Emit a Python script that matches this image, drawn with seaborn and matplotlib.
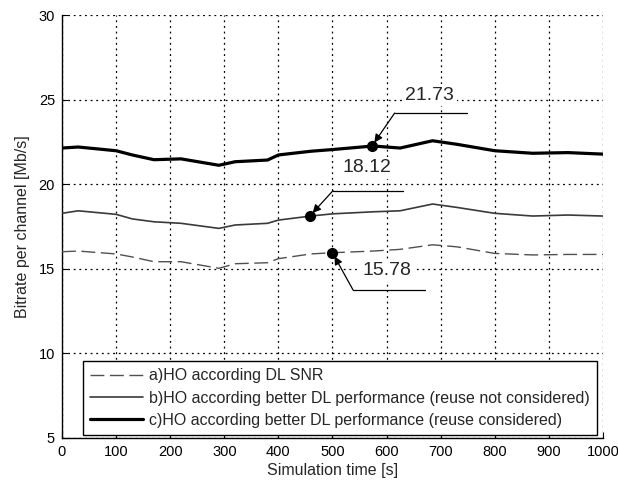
import matplotlib
matplotlib.use("Agg")
import matplotlib.pyplot as plt
import seaborn as sns
import pandas as pd

# ---- data ----
time_s = [0, 30, 100, 130, 170, 220, 290, 320, 380, 400, 460, 500, 575, 625, 685, 730, 800, 870, 935, 1000]
rate_a = [16.01, 16.05, 15.88, 15.70, 15.42, 15.42, 15.03, 15.30, 15.36, 15.60, 15.88, 15.95, 16.05, 16.15, 16.42, 16.30, 15.91, 15.82, 15.85, 15.85]
rate_b = [18.28, 18.43, 18.22, 17.95, 17.78, 17.69, 17.39, 17.59, 17.69, 17.88, 18.12, 18.25, 18.37, 18.43, 18.83, 18.63, 18.28, 18.12, 18.18, 18.12]
rate_c = [22.14, 22.20, 21.98, 21.73, 21.45, 21.50, 21.12, 21.33, 21.43, 21.73, 21.95, 22.05, 22.26, 22.14, 22.57, 22.36, 21.98, 21.83, 21.87, 21.78]

series_labels = [
    "a)HO according DL SNR",
    "b)HO according better DL performance (reuse not considered)",
    "c)HO according better DL performance (reuse considered)",
]

# annotation markers: (time, value, label text)
ann_points_t = [573, 458, 500]
ann_points_v = [22.26, 18.12, 15.95]
ann_texts = ["21.73", "18.12", "15.78"]
ann_text_t = [680, 564, 601]
ann_text_v = [25.27, 20.96, 14.93]
ann_line_t0 = [615, 501, 538]
ann_line_t1 = [749, 630, 671]
ann_line_v = [24.21, 19.62, 13.75]

x_ticks = list(range(0, 1001, 100))
y_ticks = [5, 10, 15, 20, 25, 30]

# ---- build frame ----
rows = []
for lab, vals in zip(series_labels, [rate_a, rate_b, rate_c]):
    for t, v in zip(time_s, vals):
        rows.append({"time": t, "rate": v, "series": lab})
df = pd.DataFrame(rows)

sns.set_style("white")
plt.rcParams["font.family"] = ["Liberation Sans", "DejaVu Sans"]

fig = plt.figure(figsize=(6.18, 4.86), dpi=100)
ax = fig.add_axes([0.1003, 0.0988, 0.8754, 0.8702])

styles = {
    series_labels[0]: dict(color="#505050", lw=1.0, dashes=(10, 4)),
    series_labels[1]: dict(color="#3a3a3a", lw=1.2, dashes=()),
    series_labels[2]: dict(color="#000000", lw=2.3, dashes=()),
}
for lab in series_labels:
    st = styles[lab]
    sub = df[df["series"] == lab]
    sns.lineplot(data=sub, x="time", y="rate", ax=ax, color=st["color"],
                 linewidth=st["lw"], label=lab, zorder=3)
    line = ax.get_lines()[-1]
    if st["dashes"]:
        line.set_dashes(st["dashes"])

ax.set_xlim(0, 1000)
ax.set_ylim(5, 30)
ax.set_xticks(x_ticks)
ax.set_yticks(y_ticks)
ax.tick_params(direction="in", length=4, labelsize=10.5, colors="black",
               left=True, bottom=True, pad=5)
ax.grid(True, color="black", linestyle=(0, (1.5, 3)), linewidth=0.9)
for s in ["top", "right"]:
    ax.spines[s].set_visible(False)
for s in ["left", "bottom"]:
    ax.spines[s].set_color("black")
    ax.spines[s].set_linewidth(1.0)

ax.set_xlabel("Simulation time [s]", fontsize=11.5, labelpad=3)
ax.set_ylabel("Bitrate per channel [Mb/s]", fontsize=11.5, labelpad=6)

# annotations
for pt, pv, txt, tt, tv, l0, l1, lv in zip(ann_points_t, ann_points_v, ann_texts,
                                          ann_text_t, ann_text_v, ann_line_t0,
                                          ann_line_t1, ann_line_v):
    ax.plot([pt], [pv], "o", color="black", markersize=7, zorder=5)
    ax.plot([l0, l1], [lv, lv], color="black", lw=0.9, zorder=5)
    ax.annotate("", xy=(pt, pv), xytext=(l0, lv),
                arrowprops=dict(arrowstyle="-|>", color="black", lw=0.9,
                                mutation_scale=12, shrinkA=0, shrinkB=3),
                zorder=5)
    ax.text(tt, tv, txt, fontsize=14, ha="center", va="center", zorder=6,
            bbox=dict(facecolor="white", edgecolor="none", pad=2))

leg = ax.legend(loc="lower left", bbox_to_anchor=(0.039, 0.007, 0.95, 0.17),
                mode="expand", fontsize=11.5, frameon=True, fancybox=False,
                edgecolor="black", framealpha=1, handlelength=3.3,
                borderaxespad=0, labelspacing=0.45, handletextpad=0.4,
                borderpad=0.45)
leg.get_frame().set_linewidth(1.0)
leg.set_zorder(10)

fig.savefig("out.png", dpi=100)
